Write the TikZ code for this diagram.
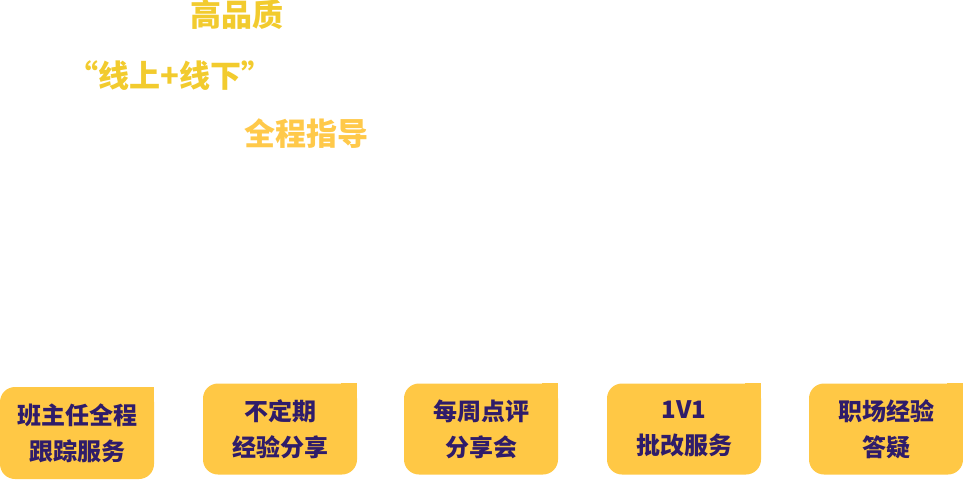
\documentclass[tikz,border=0pt]{standalone}
\usepackage{fontspec}
\newfontfamily\cjk{Noto Sans CJK SC}
\usepackage{tikz}
\definecolor{headyellow}{HTML}{F2CB2E}
\definecolor{guideyellow}{HTML}{FFC94A}
\definecolor{boxyellow}{HTML}{FFC845}
\definecolor{boxtext}{HTML}{2F1C6A}
\tikzset{
  headline/.style={inner sep=0pt, font=\cjk\bfseries\fontsize{31}{34}\selectfont},
  servicebox/.style={fill=boxyellow, rounded corners=15pt, minimum width=154pt,
    minimum height=91pt, inner sep=0pt, align=center, text=boxtext,
    font=\cjk\bfseries\fontsize{24}{36}\selectfont}
}
\def\squarecorner(#1){\fill[boxyellow] (#1.north east) rectangle ++(-16,16);}

\begin{document}
\begin{tikzpicture}[x=1pt, y=-1pt]
		%%%%% START %%%%%
		\useasboundingbox (0, 0) rectangle (963, 479);
		
		\node[headline, text=headyellow] (quality) at (237, 15) {高品质};
		\node[headline, text=headyellow] (online) at (170, 76) {“线上+线下”};
		\node[headline, text=guideyellow] (guide) at (306, 134) {全程指导};
		
		\node[servicebox, minimum height=92pt] (tutor) at (77, 433) {班主任全程\\跟踪服务};
		\squarecorner(tutor)
		
		\node[servicebox] (share) at (280, 429) {不定期\\经验分享};
		\squarecorner(share)
		
		\node[servicebox] (review) at (481, 429) {每周点评\\分享会};
		\squarecorner(review)
		
		\node[servicebox] (marking) at (684, 429) {1V1\\批改服务};
		\squarecorner(marking)
		
		\node[servicebox] (career) at (886, 429) {职场经验\\答疑};
		\squarecorner(career)
		%%%%% END %%%%%
	\end{tikzpicture}
\end{document}
